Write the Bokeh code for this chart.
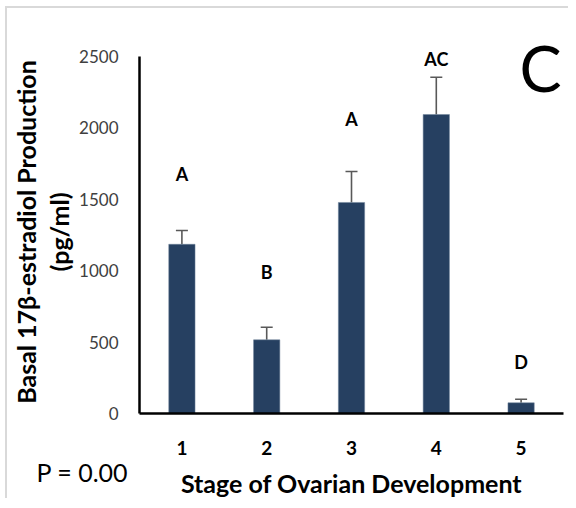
import math
from bokeh.plotting import figure
from bokeh.models import (ColumnDataSource, Whisker, TeeHead, FactorRange,
                          Range1d, LinearAxis, FixedTicker, Title)
from bokeh.core.properties import value
from bokeh.embed import file_html
from bokeh.resources import INLINE

# ---- data ----
stages = ["1", "2", "3", "4", "5"]
means = [1185, 516, 1478, 2094, 75]
sems = [97, 88, 217, 261, 25]
letters = ["A", "B", "A", "AC", "D"]
letter_y = [1674, 994, 2059, 2484, 359]
y_ticks = [0, 500, 1000, 1500, 2000, 2500]
y_title_1 = "Basal 17\u03b2-estradiol Production"
y_title_2 = "(pg/ml)"
x_title = "Stage of Ovarian Development"
p_text = "P = 0.00"
panel_letter = "C"

FONT = "Lato"

src = ColumnDataSource(dict(
    x=stages,
    top=means,
    upper=[m + s for m, s in zip(means, sems)],
    ly=letter_y,
    lab=letters,
))

p = figure(
    x_range=FactorRange(*stages, range_padding=0),
    y_range=Range1d(0, 2542),
    width=563, height=492,
    output_backend="svg", toolbar_location=None,
    min_border_left=132, min_border_right=7,
    min_border_top=42, min_border_bottom=87,
)
p.styles = {"border-top": "2px solid #d9d9d9", "border-left": "2px solid #d9d9d9",
            "margin-left": "5px", "margin-top": "6px"}

p.vbar(x="x", top="top", width=0.31, source=src,
       fill_color="#264061", line_color="#6f829b", line_width=0.5)

w = Whisker(base="x", upper="upper", lower="top", source=src,
            line_color="#595959", line_width=1.6,
            upper_head=TeeHead(size=12, line_color="#595959", line_width=1.6),
            lower_head=None)
p.add_layout(w)

p.text(x="x", y="ly", text="lab", source=src,
       text_font=value(FONT), text_font_style="bold", text_font_size="18px",
       text_align="center", text_baseline="middle", text_color="black")

p.xgrid.visible = False
p.ygrid.visible = False
p.outline_line_color = None

# panel letter as the plot title
p.title.text = panel_letter
p.title.align = "right"
p.title.vertical_align = "bottom"
p.title.offset = 2
p.title.standoff = -108
p.title.text_font = FONT
p.title.text_font_size = "63px"
p.title.text_font_style = "normal"
p.title.text_color = "black"

ya = p.yaxis[0]
ya.ticker = y_ticks
ya.bounds = (0, 2500)
ya.axis_line_width = 2.5
ya.axis_line_color = "black"
ya.major_tick_line_color = None
ya.minor_tick_line_color = None
ya.major_label_text_font = FONT
ya.major_label_text_font_size = "17px"
ya.major_label_text_color = "#404040"
ya.major_label_standoff = 15
ya.axis_label = y_title_2
ya.axis_label_text_font = FONT
ya.axis_label_text_font_style = "bold"
ya.axis_label_text_font_size = "25px"
ya.axis_label_text_color = "black"
ya.axis_label_standoff = 2

ya2 = LinearAxis(ticker=FixedTicker(ticks=[]), axis_line_color=None,
                 major_tick_line_color=None, minor_tick_line_color=None,
                 major_label_text_font_size="0px",
                 axis_label=y_title_1, axis_label_text_font=FONT,
                 axis_label_text_font_style="bold", axis_label_text_font_size="25px",
                 axis_label_text_color="black", axis_label_standoff=1)
p.add_layout(ya2, "left")

xa = p.xaxis[0]
xa.axis_line_width = 2.5
xa.axis_line_color = "black"
xa.major_tick_line_color = None
xa.minor_tick_line_color = None
xa.major_label_text_font = FONT
xa.major_label_text_font_style = "bold"
xa.major_label_text_font_size = "19px"
xa.major_label_text_color = "black"
xa.major_label_standoff = 21
xa.axis_label = x_title
xa.axis_label_text_font = FONT
xa.axis_label_text_font_style = "bold"
xa.axis_label_text_font_size = "25px"
xa.axis_label_text_color = "black"
xa.axis_label_standoff = 10

p.add_layout(Title(text=p_text, align="left", vertical_align="top", offset=-103,
                   standoff=-88, text_font=FONT, text_font_size="25px",
                   text_font_style="normal", text_color="black"), "below")

open("out.html", "w").write(file_html(p, INLINE))
